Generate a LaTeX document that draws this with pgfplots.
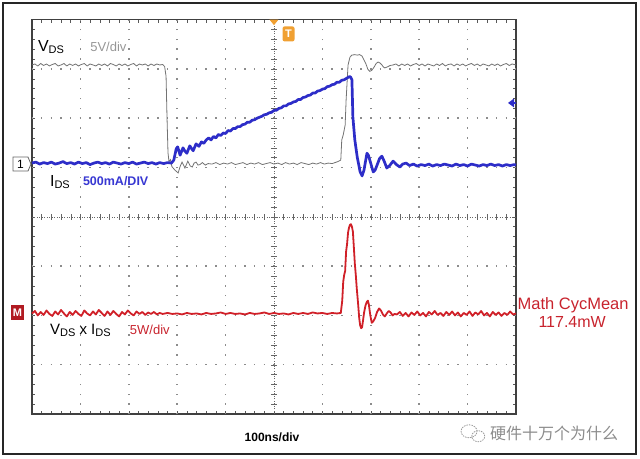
\documentclass[border=0pt]{standalone}
\usepackage{pgfplots}
\pgfplotsset{compat=1.18}
\usepackage{fontspec}
\setmainfont{Liberation Sans}
\newfontfamily\cjk{Noto Sans CJK SC}
\definecolor{trgray}{RGB}{115,115,115}
\definecolor{trblue}{RGB}{45,45,200}
\definecolor{trred}{RGB}{208,32,40}
\definecolor{txgray}{RGB}{150,150,150}
\definecolor{txblue}{RGB}{55,55,210}
\definecolor{txred}{RGB}{200,35,45}
\definecolor{trigorange}{RGB}{240,160,50}
\newcommand\sub[1]{{\fontsize{11}{11}\selectfont\raisebox{-1.8pt}{#1}}}

\begin{document}
\begin{tikzpicture}
\begin{axis}[
    scale only axis, width=484pt, height=394.4pt,
    xmin=0, xmax=1000, ymin=-4, ymax=4,
    xtick={0,100,...,1000}, ytick={-4,-3,...,4},
    minor x tick num=4, minor y tick num=4,
    xticklabels={}, yticklabels={},
    tick align=inside, major tick length=3pt, minor tick length=3pt,
    tick style={black!65, line width=0.5pt},
    axis line style={black!75, line width=1.3pt},
    clip=false,
]
% dotted division grid
\pgfplotsinvokeforeach{100,200,300,400,600,700,800,900}{
  \draw[black!45, line width=1.5pt, dash pattern=on 1.5pt off 8.36pt, dash phase=0.75pt] (axis cs:#1,-4) -- (axis cs:#1,4);}
\pgfplotsinvokeforeach{-3,-2,-1,1,2,3}{
  \draw[black!45, line width=1.5pt, dash pattern=on 1.5pt off 8.18pt, dash phase=0.75pt] (axis cs:0,#1) -- (axis cs:1000,#1);}
% centre lines with their small division ticks
\draw[black!60, dash pattern=on 1pt off 1.5pt] (axis cs:0,0) -- (axis cs:1000,0);
\draw[black!60, dash pattern=on 1pt off 1.5pt] (axis cs:500,-4) -- (axis cs:500,4);
\pgfplotsinvokeforeach{20,40,...,980}{\draw[black!60] (axis cs:#1,-0.06) -- (axis cs:#1,0.06);}
\pgfplotsinvokeforeach{-3.8,-3.6,...,3.8}{\draw[black!60] (axis cs:494,#1) -- (axis cs:506,#1);}

% V_DS (5 V/div)
\addplot[trgray, line width=0.8pt] coordinates {
(0,3.08) (6,3.10) (12,3.06) (18,3.11) (24,3.07) (30,3.10) (36,3.06) (42,3.09) (48,3.11) (54,3.06)
(60,3.08) (66,3.11) (72,3.06) (78,3.10) (84,3.07) (90,3.10) (96,3.06) (102,3.09) (108,3.11) (114,3.06)
(120,3.10) (126,3.08) (132,3.06) (138,3.10) (144,3.07) (150,3.10) (156,3.06) (162,3.11) (168,3.09) (174,3.06)
(180,3.10) (186,3.07) (192,3.10) (198,3.06) (204,3.09) (210,3.11) (216,3.06) (222,3.10) (228,3.08) (234,3.10)
(240,3.06) (246,3.10) (252,3.07) (258,3.10) (264,3.08) (270,3.09) (274,3.05) (277,2.85) (279,2.0) (281,1.3)
(283,1.12) (286,1.16) (289,1.02) (295,0.95) (302,0.89) (306,1.02) (310,1.11) (316,0.99) (322,1.13) (327,1.03)
(331,1.01) (335,1.09) (339,1.11) (343,1.05) (347,1.06) (352,1.10) (358,1.05) (364,1.08)
(372,1.07) (380,1.10) (388,1.06) (396,1.09) (404,1.07) (412,1.10) (420,1.06) (428,1.08) (436,1.10) (444,1.06)
(452,1.09) (460,1.07) (468,1.10) (476,1.06) (484,1.08) (492,1.10) (500,1.07) (508,1.09) (516,1.06) (524,1.10)
(532,1.07) (540,1.09) (548,1.06) (556,1.10) (564,1.08) (572,1.06) (580,1.09) (588,1.07) (596,1.10) (604,1.07)
(612,1.09) (620,1.08) (626,1.10) (632,1.12) (638,1.15) (640,1.56) (643,1.66) (647,1.86) (649,2.37) (653,3.08)
(657,3.24) (661,3.28) (667,3.29) (672,3.28) (677,3.29) (682,3.26) (686,3.18) (690,3.10) (694,2.99) (698,2.95)
(702,2.97) (707,3.04) (711,3.11) (715,3.14) (719,3.12) (723,3.08) (726,3.04) (729,3.02) (734,3.04) (740,3.07)
(746,3.08) (752,3.10) (758,3.06) (764,3.10) (770,3.07) (776,3.10) (782,3.06) (788,3.09) (794,3.11) (800,3.07)
(806,3.10) (812,3.06) (818,3.10) (824,3.08) (830,3.06) (836,3.10) (842,3.07) (848,3.11) (854,3.06) (860,3.09)
(866,3.10) (872,3.06) (878,3.10) (884,3.07) (890,3.10) (896,3.06) (902,3.09) (908,3.11) (914,3.07) (920,3.10)
(926,3.06) (932,3.10) (938,3.08) (944,3.06) (950,3.10) (956,3.07) (962,3.10) (968,3.06) (974,3.09) (980,3.11)
(986,3.07) (992,3.10) (1000,3.08)
};

% V_DS x I_DS (5 W/div)
\addplot[trred, line width=1.8pt, line join=round] coordinates {
(0,-1.96) (6,-1.91) (12,-2.00) (18,-1.93) (24,-1.99) (30,-1.90) (36,-1.97) (42,-2.01) (48,-1.92) (54,-1.98)
(60,-1.89) (66,-1.96) (72,-2.02) (78,-1.93) (84,-1.99) (90,-1.91) (96,-1.97) (102,-2.01) (108,-1.90) (114,-1.96)
(120,-2.00) (126,-1.92) (132,-1.98) (138,-1.89) (144,-1.95) (150,-2.01) (156,-1.92) (162,-1.99) (168,-1.91) (174,-1.97)
(180,-2.02) (186,-1.93) (192,-1.98) (198,-1.90) (204,-1.96) (210,-2.00) (216,-1.92) (222,-1.97) (228,-1.93) (234,-1.99)
(240,-1.94) (246,-1.97) (252,-1.93) (258,-1.98) (264,-1.95) (270,-1.97)
(280,-1.95) (290,-1.97) (300,-1.96) (310,-1.98) (320,-1.95) (330,-1.97) (340,-1.96) (350,-1.98) (360,-1.95) (370,-1.97)
(380,-1.96) (390,-1.94) (400,-1.97) (410,-1.95) (420,-1.97) (430,-1.96) (440,-1.98) (450,-1.95) (460,-1.97) (470,-1.96)
(480,-1.94) (490,-1.97) (500,-1.95) (510,-1.97) (520,-1.96) (530,-1.98) (540,-1.95) (550,-1.97) (560,-1.95) (570,-1.97)
(580,-1.94) (590,-1.96) (600,-1.95) (610,-1.97) (620,-1.95) (630,-1.96) (638,-1.95)
(641,-1.70) (643,-1.32) (645,-1.18) (647,-1.10) (649,-0.70) (651,-0.55) (653,-0.32) (655,-0.22) (657,-0.16) (659,-0.15)
(661,-0.20) (663,-0.30) (665,-0.62) (667,-0.95) (669,-1.18) (671,-1.45) (674,-1.79) (676,-2.05) (678,-2.20) (680,-2.26)
(682,-2.24) (684,-2.10) (686,-1.95) (689,-1.80) (692,-1.72) (694,-1.70) (696,-1.78) (699,-2.00) (702,-2.15) (705,-2.12)
(709,-2.05) (713,-1.93) (717,-1.86) (721,-1.90) (725,-1.98) (729,-2.02) (733,-1.96) (737,-1.91) (741,-1.94) (745,-2.00)
(749,-1.97) (754,-1.98)
(760,-1.93) (766,-2.01) (772,-1.95) (778,-2.02) (784,-1.94) (790,-1.99) (796,-1.92) (802,-2.00) (808,-1.95) (814,-2.02)
(820,-1.93) (826,-1.98) (832,-1.91) (838,-1.99) (844,-1.95) (850,-2.01) (856,-1.93) (862,-1.99) (868,-1.92) (874,-2.00)
(880,-1.94) (886,-2.02) (892,-1.95) (898,-1.99) (904,-1.92) (910,-2.01) (916,-1.94) (922,-1.98) (928,-1.91) (934,-2.00)
(940,-1.95) (946,-2.02) (952,-1.93) (958,-1.99) (964,-1.94) (970,-2.01) (976,-1.95) (982,-1.99) (988,-1.92) (994,-1.98)
(1000,-1.96)
};

% I_DS (500 mA/div)
\addplot[trblue, line width=2.7pt, line join=round] coordinates {
(0,1.09) (8,1.11) (16,1.07) (24,1.10) (32,1.08) (40,1.11) (48,1.07) (56,1.09) (64,1.12) (72,1.08)
(80,1.10) (88,1.07) (96,1.11) (104,1.08) (112,1.10) (120,1.06) (128,1.09) (136,1.11) (144,1.08) (152,1.10)
(160,1.07) (168,1.11) (176,1.09) (184,1.07) (192,1.10) (200,1.08) (208,1.11) (216,1.07) (224,1.09) (232,1.11)
(240,1.08) (248,1.10) (256,1.07) (264,1.10) (272,1.08) (280,1.10) (288,1.09)
(293,1.15) (298,1.38) (301,1.42) (306,1.25) (312,1.40) (316,1.33) (320,1.29) (326,1.44) (330,1.38) (333,1.34)
(339,1.48) (345,1.43) (350,1.52) (355,1.49) (360,1.56)
(365,1.60) (370,1.56) (375,1.63) (380,1.60) (385,1.67) (390,1.65) (395,1.70) (400,1.69) (405,1.75) (410,1.74)
(415,1.79) (420,1.79) (425,1.83) (430,1.83) (435,1.87) (440,1.88) (445,1.92) (450,1.92) (455,1.96) (460,1.97)
(465,2.00) (470,2.02) (475,2.04) (480,2.07) (485,2.08) (490,2.11) (495,2.12) (500,2.16) (505,2.16) (510,2.20)
(515,2.21) (520,2.25) (525,2.25) (530,2.29) (535,2.30) (540,2.33) (545,2.34) (550,2.38) (555,2.38) (560,2.42)
(565,2.43) (570,2.46) (575,2.47) (580,2.51) (585,2.51) (590,2.55) (595,2.56) (600,2.59) (605,2.60) (610,2.64)
(615,2.65) (620,2.68) (625,2.69) (630,2.73) (635,2.73) (640,2.77) (645,2.78) (650,2.81) (655,2.84) (658,2.84)
(661,2.78) (663,2.02) (667,1.56) (672,1.21) (678,0.91) (682,0.83) (686,0.95) (692,1.29) (695,1.25) (698,1.15)
(705,0.91) (709,0.95) (713,1.05) (718,1.18) (723,1.23) (728,1.12) (733,0.99) (739,1.04) (746,1.13) (753,1.06)
(760,1.01) (766,1.07) (773,1.09) (780,1.04)
(788,1.07) (796,1.03) (804,1.06) (812,1.04) (820,1.07) (828,1.03) (836,1.06) (844,1.04) (852,1.07) (860,1.05)
(868,1.03) (876,1.07) (884,1.04) (892,1.06) (900,1.03) (908,1.07) (916,1.05) (924,1.03) (932,1.06) (940,1.04)
(948,1.07) (956,1.04) (964,1.06) (972,1.03) (980,1.06) (988,1.04) (996,1.06) (1000,1.05)
};

% channel labels
\node[anchor=west, inner sep=0pt, font=\fontsize{16}{16}\selectfont] at (axis cs:12,3.44) {V\sub{DS}};
\node[anchor=west, inner sep=0pt, txgray, font=\fontsize{13}{13}\selectfont] at (axis cs:120,3.44) {5V/div};
\node[anchor=west, inner sep=0pt, font=\fontsize{16}{16}\selectfont] at (axis cs:37,0.70) {I\sub{DS}};
\node[anchor=west, inner sep=0pt, txblue, font=\fontsize{12.5}{12.5}\selectfont\bfseries] at (axis cs:105,0.73) {500mA/DIV};
\node[anchor=west, inner sep=0pt, font=\fontsize{15}{15}\selectfont] at (axis cs:37,-2.31) {V\sub{DS} x I\sub{DS}};
\node[anchor=west, inner sep=0pt, txred, font=\fontsize{13}{13}\selectfont] at (axis cs:202,-2.29) {5W/div};
\node[inner sep=0pt, font=\fontsize{12}{12}\selectfont\bfseries] at (axis cs:496,-4.47) {100ns/div};
\node[inner sep=0pt, txred, font=\fontsize{16.5}{16.5}\selectfont] at (axis cs:1118,-1.79) {Math CycMean};
\node[inner sep=0pt, txred, font=\fontsize{16}{16}\selectfont] at (axis cs:1116,-2.13) {117.4mW};
\node[anchor=west, inner sep=0pt, black!45, font=\cjk\fontsize{16}{16}\selectfont] at (axis cs:946,-4.39) {硬件十万个为什么};
\draw[black!40, line width=0.8pt, dash pattern=on 1.5pt off 1pt] (axis cs:903,-4.35) ellipse (8pt and 6.5pt);
\draw[black!40, line width=0.8pt, dash pattern=on 1.5pt off 1pt] (axis cs:922,-4.45) ellipse (6.5pt and 5.5pt);

% scope markers
\draw[black!60, fill=white, line width=0.8pt]
    ([xshift=-1pt]axis cs:0,1.07) -- ([xshift=-4pt,yshift=7pt]axis cs:0,1.07)
    -- ([xshift=-19pt,yshift=7pt]axis cs:0,1.07) -- ([xshift=-19pt,yshift=-7pt]axis cs:0,1.07)
    -- ([xshift=-4pt,yshift=-7pt]axis cs:0,1.07) -- cycle;
\node[inner sep=0pt, font=\fontsize{12}{12}\selectfont] at ([xshift=-11.5pt]axis cs:0,1.07) {1};
\fill[trred!85!black] ([xshift=-21pt,yshift=-7pt]axis cs:0,-1.96) rectangle ([xshift=-8pt,yshift=8pt]axis cs:0,-1.96);
\node[inner sep=0pt, white, font=\fontsize{11}{11}\selectfont\bfseries] at ([xshift=-14.5pt,yshift=0.5pt]axis cs:0,-1.96) {M};
\fill[trigorange] ([xshift=-4.5pt]axis cs:500,4) -- ([xshift=4.5pt]axis cs:500,4) -- ([yshift=-5.5pt]axis cs:500,4) -- cycle;
\fill[trigorange, rounded corners=2pt] ([xshift=-6pt,yshift=-7.5pt]axis cs:530,3.71) rectangle ([xshift=6pt,yshift=7.5pt]axis cs:530,3.71);
\node[inner sep=0pt, white, font=\fontsize{11}{11}\selectfont\bfseries] at (axis cs:530,3.71) {T};
\fill[trblue] ([xshift=-8pt]axis cs:1000,2.31) -- ([xshift=-2pt,yshift=4.5pt]axis cs:1000,2.31) -- ([xshift=-2pt,yshift=-4.5pt]axis cs:1000,2.31) -- cycle;
\draw[trblue, line width=1.2pt] ([xshift=-3pt]axis cs:1000,2.31) -- (axis cs:1000,2.31);

% outer frame and page size
\draw[black!85, line width=2pt] (axis cs:-59.9,-4.81) rectangle (axis cs:1247.9,4.337);
\coordinate (bbl) at (axis cs:-66.1,-4.8925);
\coordinate (bbr) at (axis cs:1256.2,4.398);
\end{axis}
\pgfresetboundingbox
\path[use as bounding box] (bbl) rectangle (bbr);
\end{tikzpicture}
\end{document}
